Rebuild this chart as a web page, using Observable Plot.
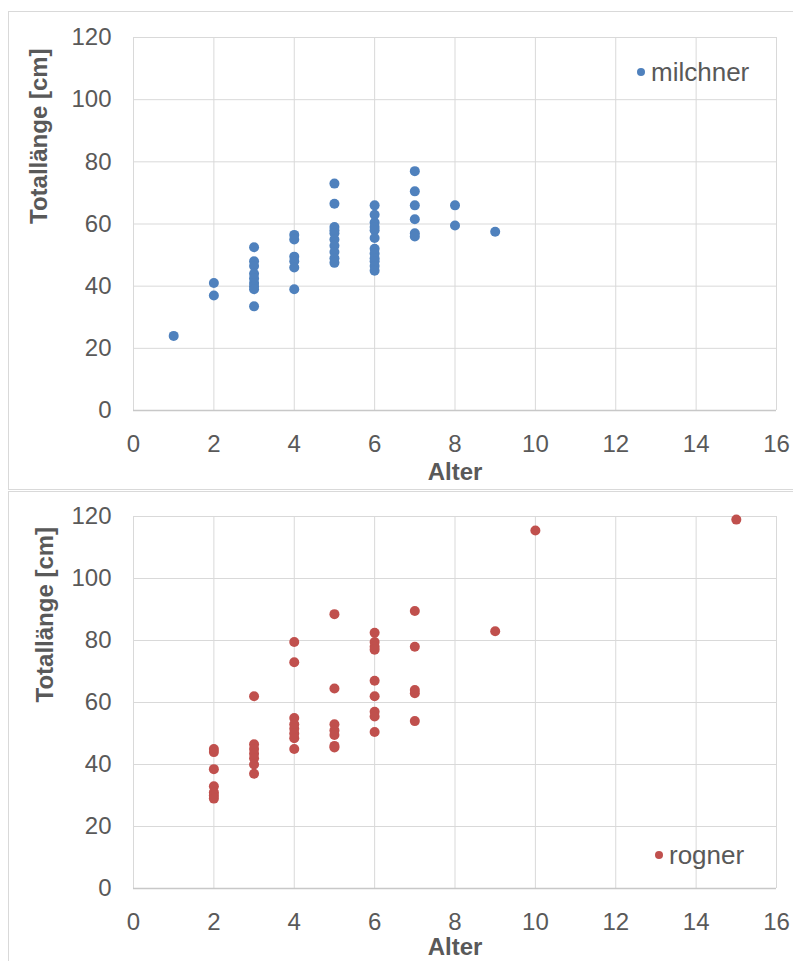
<!DOCTYPE html>
<html>
<head>
<meta charset="utf-8">
<script src="https://cdn.jsdelivr.net/npm/d3@7"></script>
<script src="https://cdn.jsdelivr.net/npm/@observablehq/plot@0.6"></script>
<style>
  html, body { margin: 0; padding: 0; background: #fff; }
  #root { position: relative; width: 793px; height: 961px; overflow: hidden; background: #fff; font-family: "Liberation Sans", Arial, sans-serif; }
  .panel { position: absolute; border: 1px solid #d9d9d9; box-sizing: border-box; }
  .chart { position: absolute; left: 0; }
  .legend { position: absolute; display: flex; align-items: center; font-size: 26px; color: #595959; line-height: 30px; white-space: nowrap; }
  .legend .sw { display: inline-block; width: 8px; height: 8px; border-radius: 50%; margin-right: 6px; }
</style>
</head>
<body>
<div id="root"></div>
<script>
// ---- data ----
const xTicks = [0, 2, 4, 6, 8, 10, 12, 14, 16];
const yTicks = [0, 20, 40, 60, 80, 100, 120];
const xLabel = "Alter";
const yLabel = "Totallänge [cm]";

const milchnerName = "milchner";
const milchnerAlter = [1, 2, 2, 3, 3, 3, 3, 3, 3, 3, 3, 3, 4, 4, 4, 4, 4, 4,
  5, 5, 5, 5, 5, 5, 5, 5, 5, 5, 6, 6, 6, 6, 6, 6, 6, 6, 6, 6, 6, 6,
  7, 7, 7, 7, 7, 7, 8, 8, 9];
const milchnerLaenge = [24, 41, 37, 52.5, 48, 46.5, 44, 42.5, 41, 40, 39, 33.5, 56.5, 55, 49.5, 48, 46, 39,
  73, 66.5, 59, 58, 57, 55, 53, 51, 49, 47.5, 66, 63, 60.5, 59, 58, 55.5, 52, 50.5, 49, 48, 46.5, 45,
  77, 70.5, 66, 61.5, 57, 56, 66, 59.5, 57.5];

const rognerName = "rogner";
const rognerAlter = [2, 2, 2, 2, 2, 2, 2, 3, 3, 3, 3, 3, 3, 3, 4, 4, 4, 4, 4, 4, 4, 4,
  5, 5, 5, 5, 5, 5, 5, 6, 6, 6, 6, 6, 6, 6, 6, 6, 7, 7, 7, 7, 7, 9, 10, 15];
const rognerLaenge = [45, 44, 38.5, 33, 31, 30, 29, 62, 46.5, 45, 43.5, 42, 40, 37, 79.5, 73, 55, 53, 51.5, 50, 48.5, 45,
  88.5, 64.5, 53, 51, 49.5, 46, 45.5, 82.5, 79.5, 78, 77, 67, 62, 57, 55.5, 50.5, 89.5, 78, 64, 63, 54, 83, 115.5, 119];

const milchnerColor = "#4F81BD";
const rognerColor = "#C0504D";

// ---- build ----
const root = document.getElementById("root");

function panel(left, top, w, h) {
  const d = document.createElement("div");
  d.className = "panel";
  d.style.left = left + "px"; d.style.top = top + "px";
  d.style.width = w + "px"; d.style.height = h + "px";
  root.appendChild(d);
}
panel(8, 11, 800, 479);
panel(8, 491, 800, 480);

function makeChart(alter, laenge, color, height, marginTop, marginBottom, yLabelDx, xLabelDy) {
  const data = alter.map((a, i) => ({alter: a, laenge: laenge[i]}));
  return Plot.plot({
    width: 793,
    height,
    marginLeft: 133,
    marginRight: 17,
    marginTop,
    marginBottom,
    style: {fontFamily: "'Liberation Sans', Arial, sans-serif", fontSize: "24px", color: "#595959", background: "transparent", overflow: "visible"},
    x: {domain: [0, 16]},
    y: {domain: [0, 120]},
    marks: [
      Plot.gridX(xTicks, {stroke: "#d9d9d9", strokeOpacity: 1}),
      Plot.gridY(yTicks, {stroke: "#d9d9d9", strokeOpacity: 1}),
      Plot.ruleY([0], {stroke: "#c8c8c8", strokeWidth: 1.3}),
      Plot.axisX(xTicks, {tickSize: 0, tickPadding: 24, label: null, fill: "#595959", fontSize: 24, tickFormat: d => String(d)}),
      Plot.axisY(yTicks, {tickSize: 0, tickPadding: 22, label: null, fill: "#595959", fontSize: 24, tickFormat: d => String(d)}),
      Plot.dot(data, {x: "alter", y: "laenge", r: 5, fill: color, stroke: "none"}),
      Plot.text([xLabel], {text: d => d, frameAnchor: "bottom", lineAnchor: "middle", dy: xLabelDy, fontWeight: "bold", fontSize: 24, fill: "#595959"}),
      Plot.text([yLabel], {text: d => d, frameAnchor: "left", lineAnchor: "middle", rotate: -90, dx: yLabelDx, fontWeight: "bold", fontSize: 24, fill: "#595959"})
    ]
  });
}

const c1 = makeChart(milchnerAlter, milchnerLaenge, milchnerColor, 488, 37, 78, -94, 62);
c1.classList.add("chart");
c1.style.top = "0px";
root.appendChild(c1);

const c2 = makeChart(rognerAlter, rognerLaenge, rognerColor, 473, 28, 73, -88, 59);
c2.classList.add("chart");
c2.style.top = "488px";
root.appendChild(c2);

function legend(name, color, left, top) {
  const d = document.createElement("div");
  d.className = "legend";
  d.style.left = left + "px"; d.style.top = top + "px";
  const sw = document.createElement("span");
  sw.className = "sw";
  sw.style.background = color;
  d.appendChild(sw);
  const t = document.createElement("span");
  t.textContent = name;
  d.appendChild(t);
  root.appendChild(d);
}
legend(milchnerName, milchnerColor, 637, 57);
legend(rognerName, rognerColor, 655, 840);
</script>
</body>
</html>
